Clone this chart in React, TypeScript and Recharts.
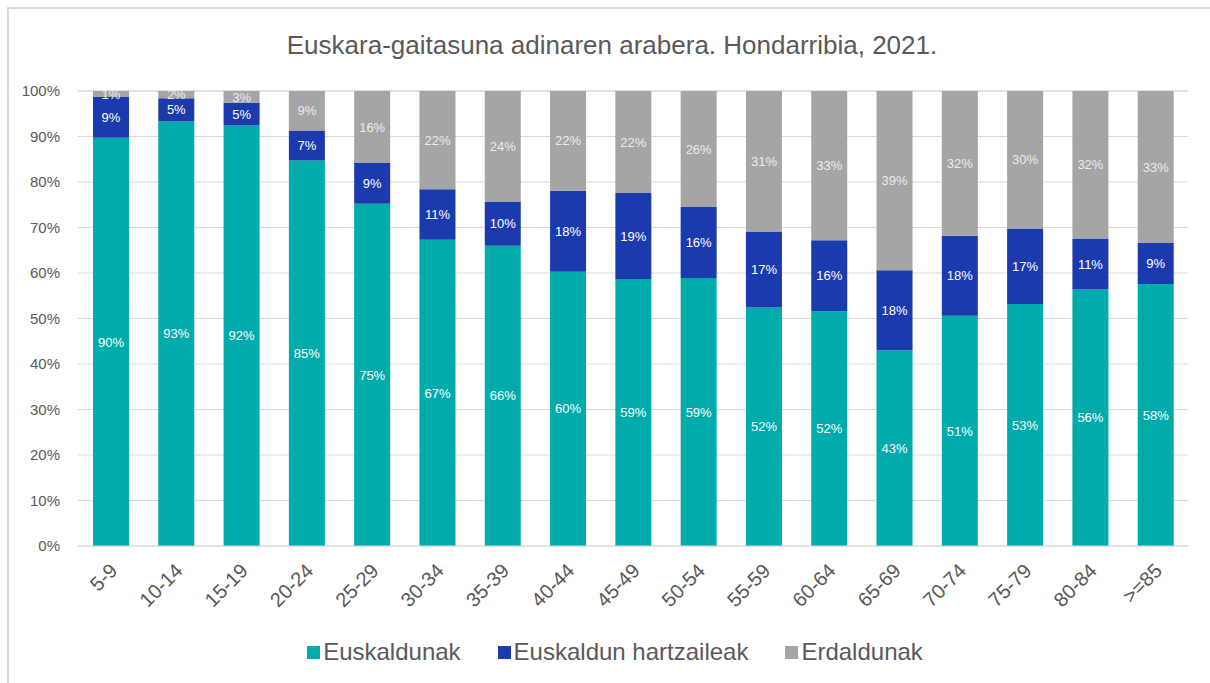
import { BarChart, Bar, XAxis, YAxis, CartesianGrid, Legend, LabelList } from 'recharts'

const categories = ['5-9', '10-14', '15-19', '20-24', '25-29', '30-34', '35-39', '40-44', '45-49', '50-54', '55-59', '60-64', '65-69', '70-74', '75-79', '80-84', '>=85']
const euskaldunak = [89.7, 93.3, 92.4, 84.7, 75.2, 67.3, 66.0, 60.3, 58.7, 58.9, 52.4, 51.6, 43.0, 50.6, 53.2, 56.4, 57.6]
const hartzaileak = [9.0, 5.1, 5.0, 6.6, 9.0, 11.1, 9.7, 17.8, 18.9, 15.6, 16.7, 15.6, 17.6, 17.6, 16.6, 11.2, 9.0]
const erdaldunak = [1.3, 1.6, 2.6, 8.7, 15.8, 21.6, 24.3, 21.9, 22.4, 25.5, 30.9, 32.8, 39.4, 31.8, 30.2, 32.4, 33.4]
const yTicks = [0, 10, 20, 30, 40, 50, 60, 70, 80, 90, 100]

const seriesNames = ['Euskaldunak', 'Euskaldun hartzaileak', 'Erdaldunak']
const colors = ['#00abab', '#1b3aad', '#a5a5a5']

const data = categories.map((c, i) => ({
  age: c,
  e: euskaldunak[i],
  h: hartzaileak[i],
  r: erdaldunak[i],
}))

const FONT = '"Liberation Sans", Arial, sans-serif'
const pct = (v: any) => Math.round(Number(v)) + '%'

const AgeTick = (props: any) => {
  const { x, y, payload } = props
  const tx = x + 8
  const ty = y + 18
  return (
    <text x={tx} y={ty} transform={`rotate(-45, ${tx}, ${ty})`} textAnchor="end"
      fill="#595959" fontSize={20} fontFamily={FONT}>
      {payload.value}
    </text>
  )
}

const LegendContent = () => (
  <div style={{ display: 'flex', justifyContent: 'center', fontFamily: FONT, fontSize: 24, color: '#595959' }}>
    {seriesNames.map((n, i) => (
      <div key={n} style={{ display: 'flex', alignItems: 'center', marginRight: i < 2 ? 37 : 0 }}>
        <span style={{ width: 13, height: 13, background: colors[i], marginRight: 3, display: 'inline-block' }} />
        <span>{n}</span>
      </div>
    ))}
  </div>
)

export default function App() {
  return (
    <div style={{ position: 'absolute', left: 0, top: 0, width: 1210, height: 683, overflow: 'hidden', background: '#fff' }}>
      <style>{`body{margin:0;overflow:hidden}`}</style>
      <div style={{ position: 'absolute', left: 7, top: 7, width: 1250, height: 720, borderLeft: '2px solid #d9d9d9', borderTop: '2px solid #d9d9d9' }} />
      <div style={{ position: 'absolute', left: 0, width: 1224, top: 30, textAlign: 'center', fontFamily: FONT, fontSize: 26, color: '#595959' }}>
        Euskara-gaitasuna adinaren arabera. Hondarribia, 2021.
      </div>
      <div style={{ position: 'absolute', left: 0, top: 0 }}>
        <BarChart width={1210} height={683} data={data} margin={{ top: 91, right: 22, bottom: 0, left: 0 }} barSize={36}>
          <CartesianGrid vertical={false} stroke="#d9d9d9" />
          <XAxis dataKey="age" height={137} interval={0} tickLine={false} axisLine={{ stroke: '#d9d9d9' }} tick={<AgeTick />} />
          <YAxis width={78} domain={[0, 100]} ticks={yTicks} tickFormatter={(v) => v + '%'} axisLine={false} tickLine={false}
            tick={{ fill: '#595959', fontSize: 15, fontFamily: FONT }} tickMargin={12} />
          <Legend verticalAlign="middle" align="center" content={<LegendContent />}
            wrapperStyle={{ top: 638, left: 0, width: 1230 }} />
          <Bar dataKey="e" stackId="a" fill={colors[0]} isAnimationActive={false}>
            <LabelList dataKey="e" position="center" formatter={pct} fill="#ffffff" fontSize={13} fontFamily={FONT} />
          </Bar>
          <Bar dataKey="h" stackId="a" fill={colors[1]} isAnimationActive={false}>
            <LabelList dataKey="h" position="center" formatter={pct} fill="#ffffff" fontSize={13} fontFamily={FONT} />
          </Bar>
          <Bar dataKey="r" stackId="a" fill={colors[2]} isAnimationActive={false}>
            <LabelList dataKey="r" position="center" formatter={pct} fill="#ececec" fontSize={13} fontFamily={FONT} />
          </Bar>
        </BarChart>
      </div>
    </div>
  )
}
